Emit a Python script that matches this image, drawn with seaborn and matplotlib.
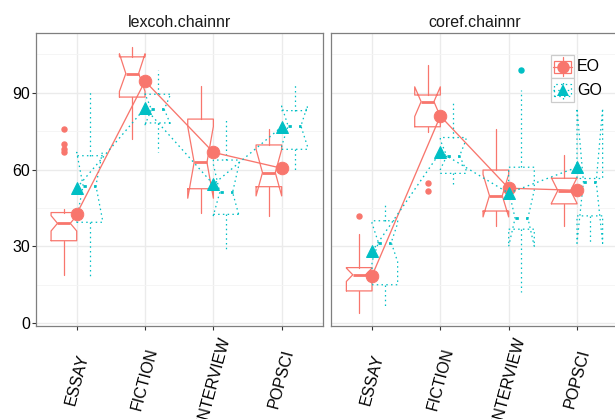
import numpy as np
import pandas as pd
import matplotlib
matplotlib.use("Agg")
import matplotlib.pyplot as plt
from matplotlib.patches import Rectangle
from matplotlib.ticker import MultipleLocator
import seaborn as sns

# categories
genres = ["ESSAY", "FICTION", "INTERVIEW", "POPSCI"]
groups = ["EO", "GO"]
panels = ["lexcoh.chainnr", "coref.chainnr"]

# box stats per genre: whislo, q1, cilo, med, cihi, q3, whishi
lex_eo_box = [
    [18.9, 32.2, 36.0, 39.0, 42.0, 43.2, 44.6],
    [72.0, 88.3, 90.5, 97.5, 105.2, 104.0, 107.8],
    [42.9, 52.5, 48.8, 62.8, 76.8, 79.7, 92.7],
    [42.0, 53.3, 49.7, 58.8, 67.9, 69.6, 75.8],
]
lex_go_box = [
    [17.9, 39.4, 40.7, 53.7, 66.7, 65.4, 90.8],
    [67.0, 78.2, 77.5, 83.5, 89.5, 89.4, 98.8],
    [29.0, 42.5, 42.0, 51.1, 62.0, 63.7, 80.2],
    [58.9, 67.9, 69.2, 77.0, 84.8, 83.0, 93.0],
]
coref_eo_box = [
    [3.9, 12.6, 16.3, 18.9, 21.5, 21.7, 34.7],
    [74.8, 76.7, 80.7, 86.5, 92.3, 89.1, 100.8],
    [38.0, 43.8, 41.5, 49.8, 58.1, 59.8, 75.8],
    [38.0, 46.6, 46.8, 51.8, 56.8, 56.6, 65.7],
]
coref_go_box = [
    [5.9, 15.0, 24.0, 31.5, 39.0, 40.0, 47.0],
    [53.0, 58.5, 60.0, 65.3, 71.5, 72.5, 86.0],
    [12.0, 36.7, 30.0, 41.0, 52.0, 60.9, 91.0],
    [31.2, 41.9, 31.2, 55.3, 83.9, 56.5, 56.5],
]

# outliers
lex_eo_fliers = [[76.0, 70.0, 68.0, 67.0], [], [], []]
lex_go_fliers = [[], [], [], []]
coref_eo_fliers = [[41.9], [54.9, 51.8], [], []]
coref_go_fliers = [[], [], [99.0], []]

# group means
lex_eo_mean = [42.7, 94.5, 66.7, 60.5]
lex_go_mean = [52.8, 84.0, 54.2, 76.7]
coref_eo_mean = [18.5, 80.9, 52.7, 51.9]
coref_go_mean = [28.0, 66.8, 50.8, 60.9]

colors = {"EO": "#F8766D", "GO": "#00BFC4"}
styles = {"EO": "-", "GO": ":"}
markers = {"EO": "o", "GO": "^"}

panel_boxes = {
    "lexcoh.chainnr": {"EO": (lex_eo_box, lex_eo_fliers), "GO": (lex_go_box, lex_go_fliers)},
    "coref.chainnr": {"EO": (coref_eo_box, coref_eo_fliers), "GO": (coref_go_box, coref_go_fliers)},
}
panel_means = {
    "lexcoh.chainnr": {"EO": lex_eo_mean, "GO": lex_go_mean},
    "coref.chainnr": {"EO": coref_eo_mean, "GO": coref_go_mean},
}

sns.set_theme(style="white")
plt.rcParams["font.family"] = ["Liberation Sans", "DejaVu Sans"]
plt.rcParams["lines.dotted_pattern"] = [1.2, 2.6]

W, H = 615, 419
fig = plt.figure(figsize=(W / 100, H / 100), dpi=100)

axes_px = {"lexcoh.chainnr": 35.7, "coref.chainnr": 331.0}
ax_w, ax_top, ax_bot = 287.0, 33.3, 326.0

lw = 0.9
for p, panel in enumerate(panels):
    left = axes_px[panel]
    ax = fig.add_axes([left / W, 1 - ax_bot / H, ax_w / W, (ax_bot - ax_top) / H])

    # notched boxes, dodged per group
    for grp in groups:
        box, fl = panel_boxes[panel][grp]
        stats = []
        for row, f in zip(box, fl):
            stats.append(dict(whislo=row[0], q1=row[1], cilo=row[2], med=row[3],
                              cihi=row[4], q3=row[5], whishi=row[6], fliers=f))
        c = colors[grp]
        ls = styles[grp]
        off = -0.1875 if grp == "EO" else 0.1875
        ax.bxp(stats, positions=np.arange(len(genres)) + off, widths=0.375,
               shownotches=True, showcaps=False, manage_ticks=False,
               boxprops=dict(color=c, lw=lw, ls=ls),
               whiskerprops=dict(color=c, lw=lw, ls=ls),
               medianprops=dict(color=c, lw=2.0, ls=ls),
               flierprops=dict(marker="o", mfc=c, mec=c, ms=3.6, ls="none"),
               zorder=2)

    # mean points connected by lines
    mean_df = pd.DataFrame({
        "genre": genres * 2,
        "group": ["EO"] * 4 + ["GO"] * 4,
        "value": panel_means[panel]["EO"] + panel_means[panel]["GO"],
    })
    sns.pointplot(data=mean_df, x="genre", y="value", hue="group", order=genres,
                  hue_order=groups, palette=colors, markers=["o", "^"],
                  linestyles=["-", ":"], errorbar=None, dodge=False, legend=False,
                  ax=ax, markersize=9, linewidth=0.95)

    ax.set_xlim(-0.6, 3.6)
    ax.set_ylim(-1.1, 113.2)
    ax.set_xlabel("")
    ax.set_ylabel("")
    ax.set_yticks([0, 30, 60, 90])
    ax.yaxis.set_minor_locator(MultipleLocator(15))
    ax.set_axisbelow(True)
    ax.grid(True, which="major", color="#EBEBEB", lw=1.0)
    ax.yaxis.grid(True, which="minor", color="#F4F4F4", lw=0.6)
    for s in ax.spines.values():
        s.set_color("#7F7F7F")
        s.set_linewidth(0.9)
        s.set_visible(True)

    ax.tick_params(axis="both", which="major", length=3.2, width=0.8, color="#333333",
                   labelsize=11.5, labelcolor="black", direction="out")
    ax.tick_params(axis="y", which="minor", length=0)
    ax.tick_params(axis="y", pad=1.0, left=(p == 0), labelleft=(p == 0))
    ax.tick_params(axis="x", pad=35.0, bottom=True)
    ax.set_xticks(range(len(genres)))
    ax.set_xticklabels(genres)
    for lab in ax.get_xticklabels():
        lab.set_rotation(75)
        lab.set_ha("center")
        lab.set_va("center")

    fig.text((left + ax_w / 2) / W, 1 - 26.7 / H, panel, ha="center", va="baseline",
             fontsize=11.5, color="#1A1A1A")

# legend drawn by hand in the right panel
lax = fig.add_axes([550.7 / W, 1 - 101.7 / H, 23.6 / W, 46.7 / H])
lax.set_xlim(0, 1)
lax.set_ylim(0, 2)
lax.axis("off")
for i, grp in enumerate(groups):
    y0 = 1 - i
    c = colors[grp]
    ls = styles[grp]
    lax.add_patch(Rectangle((0, y0), 1, 1, fc="white", ec="#CCCCCC", lw=0.9, clip_on=False))
    lax.add_patch(Rectangle((0.125, y0 + 0.25), 0.75, 0.5, fc="none", ec=c, lw=lw, ls=ls))
    lax.plot([0.5, 0.5], [y0 + 0.1, y0 + 0.25], color=c, lw=lw, ls=ls)
    lax.plot([0.5, 0.5], [y0 + 0.75, y0 + 0.9], color=c, lw=lw, ls=ls)
    lax.plot([0.1, 0.9], [y0 + 0.5, y0 + 0.5], color=c, lw=lw, ls=ls)
    lax.plot([0.5], [y0 + 0.5], marker=markers[grp], color=c, ms=9, mew=0)
    lax.text(1.12, y0 + 0.5, grp, ha="left", va="center", fontsize=11.5, color="black")

fig.savefig("out.png", dpi=100)
